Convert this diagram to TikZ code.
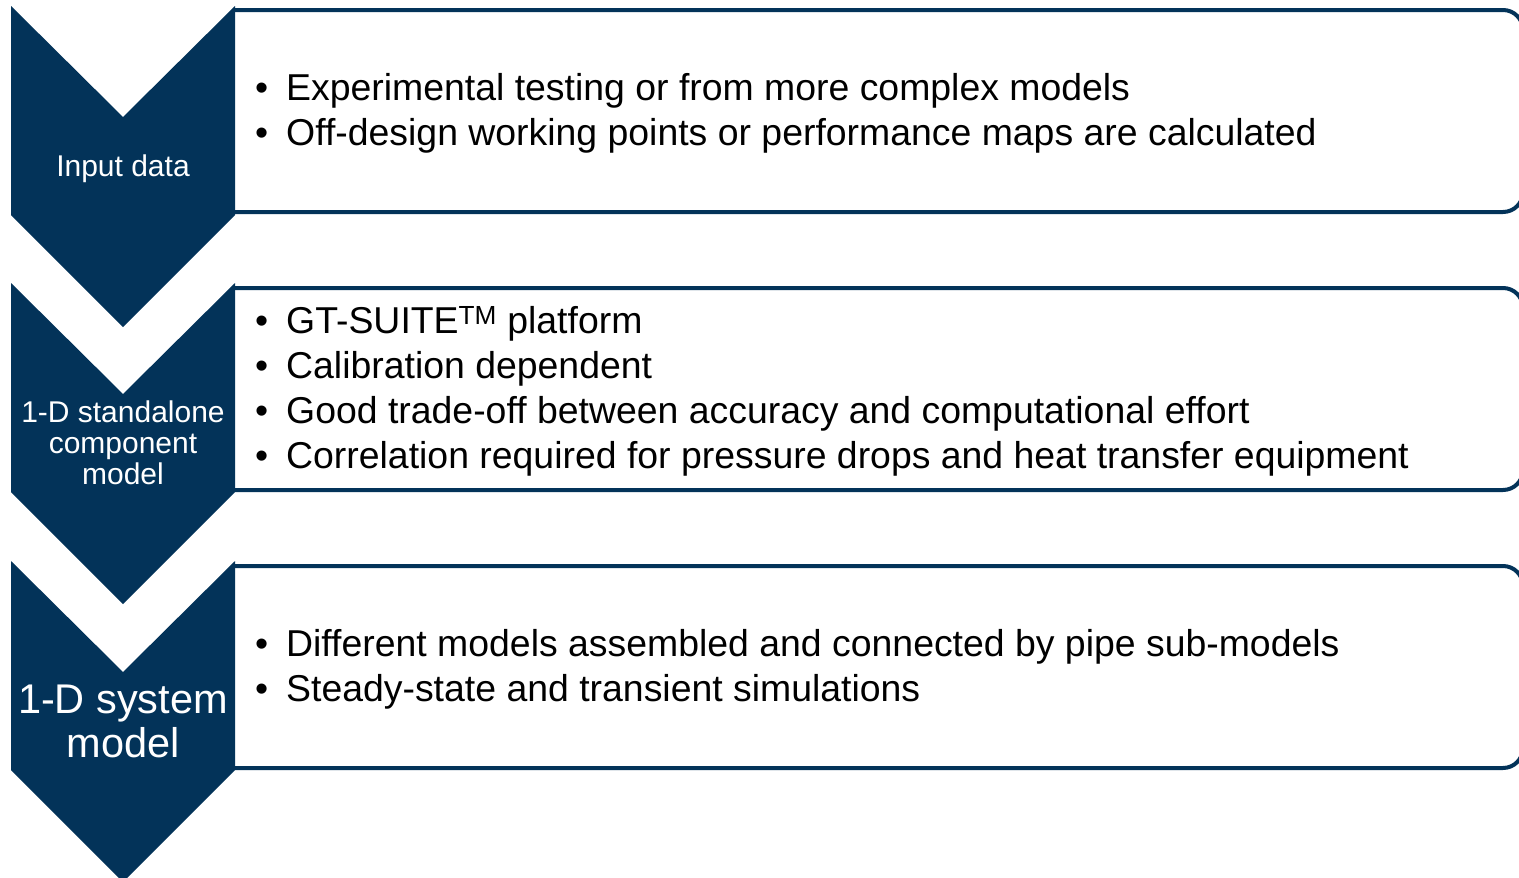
\documentclass[tikz,border=0pt]{standalone}
\usepackage{fontspec}
\setmainfont{Liberation Sans}
\usepackage{xcolor}
\definecolor{darkblue}{RGB}{3,51,89}
\newcommand{\bitem}{\makebox[31pt][l]{\textbullet}}

\begin{document}
\begin{tikzpicture}[x=1pt, y=-1pt]
\tikzset{chevron/.style = {fill=darkblue, draw=none}}
\tikzset{infobox/.style = {draw=darkblue, line width=4pt, fill=white, rounded corners=20pt}}
\tikzset{steplabel/.style = {text=white, align=center, inner sep=0pt, font=\fontsize{30}{31}\selectfont}}
\tikzset{bullets/.style = {anchor=west, align=left, inner sep=0pt, font=\fontsize{37.4}{45}\selectfont}}

\useasboundingbox (0,0) rectangle (1519,878);

%boxes
\foreach \t in {10, 288, 566}
  \draw[infobox] (235,\t) -- (1523,\t) -- (1523,\t+202) -- (235,\t+202);

%chevrons
\foreach \t in {6, 283, 561}
  \fill[chevron] (11,\t) -- (123,\t+111) -- (235,\t) -- (235,\t+209) -- (123,\t+321) -- (11,\t+209) -- cycle;

\node[steplabel] (input) at (123,169) {Input data};
\node[steplabel] (standalone) at (123,443) {1-D standalone\\component\\model};
\node[steplabel, font=\fontsize{41.5}{44}\selectfont] (system) at (123,721) {1-D system\\model};

%bullet lists
\node[bullets] (inputitems) at (255,113) {\bitem Experimental testing or from more complex models\\
  \bitem Off-design working points or performance maps are calculated};
\node[bullets] (standaloneitems) at (255,391) {\bitem GT-SUITE\textsuperscript{TM} platform\\
  \bitem Calibration dependent\\
  \bitem Good trade-off between accuracy and computational effort\\
  \bitem Correlation required for pressure drops and heat transfer equipment};
\node[bullets] (systemitems) at (255,669) {\bitem Different models assembled and connected by pipe sub-models\\
  \bitem Steady-state and transient simulations};

\end{tikzpicture}
\end{document}
